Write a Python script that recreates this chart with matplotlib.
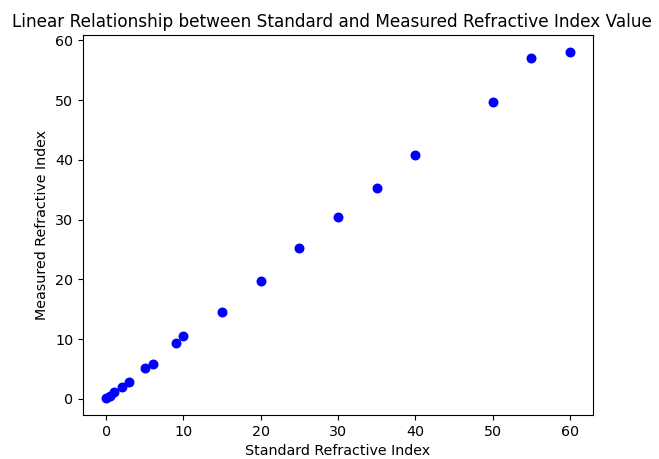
import matplotlib
matplotlib.use("Agg")
import matplotlib.pyplot as plt

# standard vs measured refractive index values
standard = [0, 0.5, 1, 2, 3, 5, 6, 9, 10, 15, 20, 25, 30, 35, 40, 50, 55, 60]
measured = [0.2, 0.5, 1.1, 2.0, 2.8, 5.2, 5.8, 9.3, 10.5, 14.5, 19.7, 25.3,
            30.5, 35.3, 40.8, 49.6, 57.0, 58.0]

plt.rcParams['font.size'] = 10.3

fig = plt.figure(figsize=(6.59, 4.59), dpi=100)
ax = fig.add_axes([83 / 659, 44 / 459, 510 / 659, 380 / 459])
ax.scatter(standard, measured, color='blue', s=38)
ax.set_xlabel('Standard Refractive Index')
ax.set_ylabel('Measured Refractive Index')
ax.set_title('Linear Relationship between Standard and Measured Refractive Index Value',
             fontsize=12.2, x=0.489)

fig.savefig('out.png', dpi=100)
